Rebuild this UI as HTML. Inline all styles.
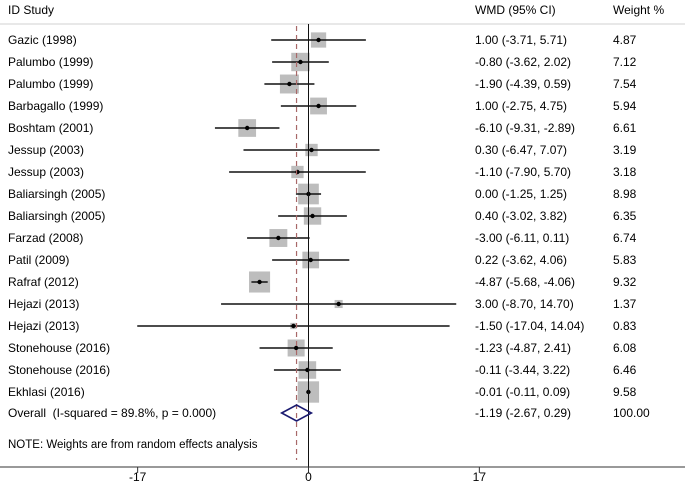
<!DOCTYPE html>
<html><head><meta charset="utf-8"><style>
body{margin:0;background:#fff}
svg{display:block;font-family:"Liberation Sans",Arial,sans-serif;font-size:12px}
</style></head><body>
<svg id="chart" width="685" height="482" viewBox="0 0 685 482">
<line x1="0" y1="24" x2="685" y2="24" stroke="#d0d0d0" stroke-width="1"/>
<text x="8" y="14">ID Study</text>
<text x="475" y="14">WMD (95% CI)</text>
<text x="613" y="14">Weight %</text>
<g id="marks"></g>
<line x1="0" y1="467" x2="685" y2="467" stroke="#333" stroke-width="1"/>
<text x="8" y="448" font-size="11.5">NOTE: Weights are from random effects analysis</text>
<g id="axis"></g>
</svg>
<script>
const studies=["Gazic (1998)","Palumbo (1999)","Palumbo (1999)","Barbagallo (1999)","Boshtam (2001)","Jessup (2003)","Jessup (2003)","Baliarsingh (2005)","Baliarsingh (2005)","Farzad (2008)","Patil (2009)","Rafraf (2012)","Hejazi (2013)","Hejazi (2013)","Stonehouse (2016)","Stonehouse (2016)","Ekhlasi (2016)"];
const est=[1.00,-0.80,-1.90,1.00,-6.10,0.30,-1.10,0.00,0.40,-3.00,0.22,-4.87,3.00,-1.50,-1.23,-0.11,-0.01];
const lo=[-3.71,-3.62,-4.39,-2.75,-9.31,-6.47,-7.90,-1.25,-3.02,-6.11,-3.62,-5.68,-8.70,-17.04,-4.87,-3.44,-0.11];
const hi=[5.71,2.02,0.59,4.75,-2.89,7.07,5.70,1.25,3.82,0.11,4.06,-4.06,14.70,14.04,2.41,3.22,0.09];
const weights=["4.87","7.12","7.54","5.94","6.61","3.19","3.18","8.98","6.35","6.74","5.83","9.32","1.37","0.83","6.08","6.46","9.58"];
const overall=[-1.19,-2.67,0.29];
const ticks=[-17,0,17];
const NS="http://www.w3.org/2000/svg";
const X=v=>308.5+v*10.05;
const Y=i=>40+i*22;
const g=document.getElementById('marks');
function mk(t,a,p){const e=document.createElementNS(NS,t);for(const k in a)e.setAttribute(k,a[k]);(p||g).appendChild(e);return e;}
const f=v=>v.toFixed(2);
studies.forEach((s,i)=>{
 const y=Y(i);
 let t=mk('text',{x:8,y:y+4});t.textContent=s;
 
 
 const side=6.9*Math.sqrt(+weights[i]);
 const b=mk('rect',{x:X(est[i])-side/2,y:y-side/2,width:side,height:side,fill:'#bdbdbd'});
 
 
 const l=mk('line',{x1:X(lo[i]),x2:X(hi[i]),y1:y,y2:y,stroke:'#111','stroke-width':1.6});
 
 
 const c=mk('circle',{cx:X(est[i]),cy:y,r:2.2,fill:'#000'});
 
 
 t=mk('text',{x:475,y:y+4});t.textContent=f(est[i])+" ("+f(lo[i])+", "+f(hi[i])+")";
 
 
 t=mk('text',{x:613,y:y+4});t.textContent=weights[i];
 
 
});
const yo=Y(studies.length)-1;
let t=mk('text',{x:8,y:yo+4});t.setAttributeNS("http://www.w3.org/XML/1998/namespace","xml:space","preserve");t.textContent="Overall  (I-squared = 89.8%, p = 0.000)";


t=mk('text',{x:475,y:yo+4});t.textContent=f(overall[0])+" ("+f(overall[1])+", "+f(overall[2])+")";


t=mk('text',{x:613,y:yo+4});t.textContent="100.00";


const zl=mk('line',{x1:X(0),x2:X(0),y1:24,y2:467,stroke:'#111','stroke-width':1});


const dl=mk('line',{x1:X(overall[0]),x2:X(overall[0]),y1:26,y2:460,stroke:'#a86868','stroke-width':1.2,'stroke-dasharray':'5,4'});


const d=mk('polygon',{points:`${X(overall[1])},${yo} ${X(overall[0])},${yo-8} ${X(overall[2])},${yo} ${X(overall[0])},${yo+8}`,fill:'none',stroke:'#1a1a70','stroke-width':1.6});


const ax=document.getElementById('axis');
ticks.forEach(v=>{
 const tk=mk('line',{x1:X(v),x2:X(v),y1:467,y2:473,stroke:'#333'},ax);
 
 
 const tl=mk('text',{x:X(v),y:481,'text-anchor':'middle'},ax);tl.textContent=v;
 
 
});
</script>
</body></html>
